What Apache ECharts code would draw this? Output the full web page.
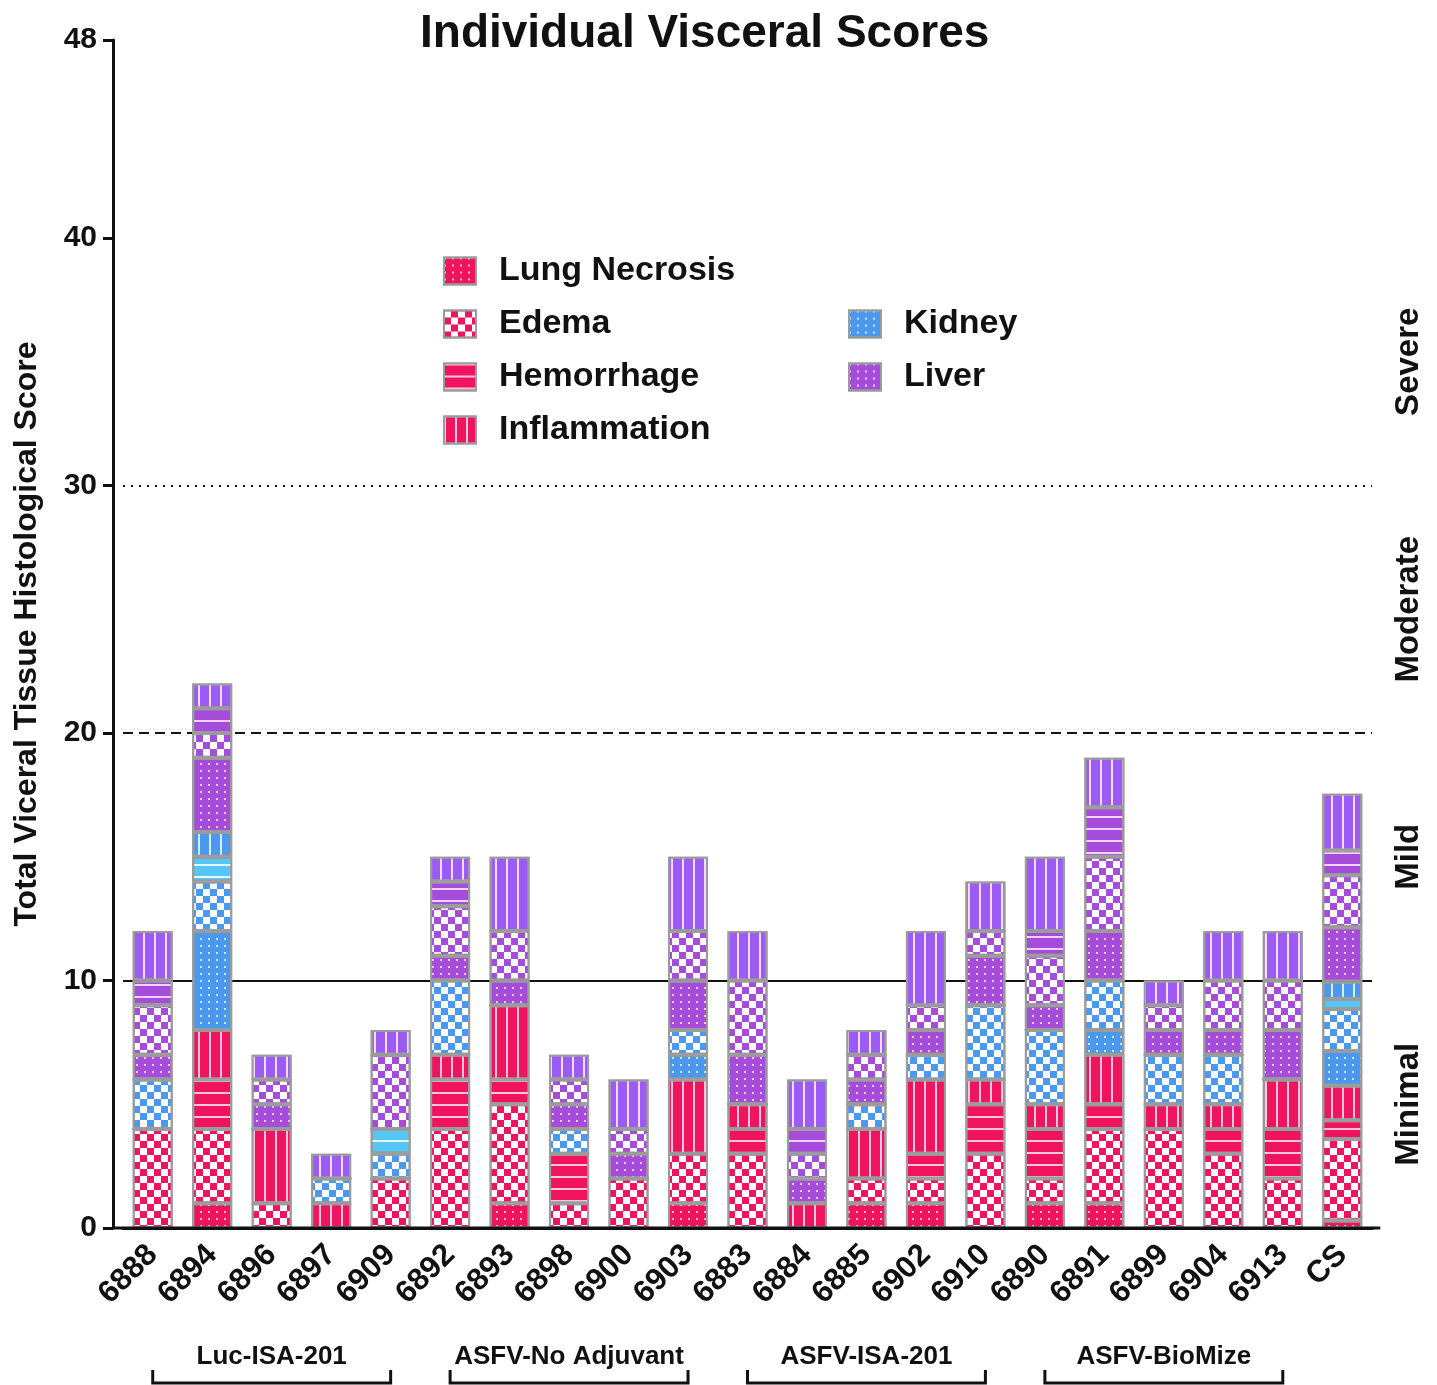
<!DOCTYPE html>
<html>
<head>
<meta charset="utf-8">
<script src="https://cdn.jsdelivr.net/npm/echarts@6/dist/echarts.min.js"></script>
<style>
  html, body { margin: 0; padding: 0; background: #fff; }
  #main { width: 1437px; height: 1385px; }
</style>
</head>
<body>
<div id="main"></div>
<script>
// animal ids along the x axis
var categories = ['6888', '6894', '6896', '6897', '6909', '6892', '6893', '6898', '6900', '6903',
  '6883', '6884', '6885', '6902', '6910', '6890', '6891', '6899', '6904', '6913', 'CS'];

// lung
var lungNecrosis     = [0, 1, 0, 0, 0, 0, 1, 0, 0, 1, 0, 0, 1, 1, 0, 1, 1, 0, 0, 0, 0.3];
var lungEdema        = [4, 3, 1, 0, 2, 4, 4, 1, 2, 2, 3, 0, 1, 1, 3, 1, 3, 4, 3, 2, 3.3];
var lungHemorrhage   = [0, 2, 0, 0, 0, 2, 1, 2, 0, 0, 1, 0, 0, 1, 2, 2, 1, 0, 1, 2, 0.75];
var lungInflammation = [0, 2, 3, 1, 0, 1, 3, 0, 0, 3, 1, 1, 2, 3, 1, 1, 2, 1, 1, 2, 1.4];
// kidney
var kidneyNecrosis     = [0, 4, 0, 0, 0, 0, 0, 0, 0, 1, 0, 0, 0, 0, 0, 0, 1, 0, 0, 0, 1.4];
var kidneyEdema        = [2, 2, 0, 1, 1, 3, 0, 1, 0, 1, 0, 0, 1, 1, 3, 3, 2, 2, 2, 0, 1.7];
var kidneyHemorrhage   = [0, 1, 0, 0, 1, 0, 0, 0, 0, 0, 0, 0, 0, 0, 0, 0, 0, 0, 0, 0, 0.4];
var kidneyInflammation = [0, 1, 0, 0, 0, 0, 0, 0, 0, 0, 0, 0, 0, 0, 0, 0, 0, 0, 0, 0, 0.7];
// liver
var liverNecrosis     = [1, 3, 1, 0, 0, 1, 1, 1, 1, 2, 2, 1, 1, 1, 2, 1, 2, 1, 1, 2, 2.2];
var liverEdema        = [2, 1, 1, 0, 3, 2, 2, 1, 1, 2, 3, 1, 1, 1, 1, 2, 3, 1, 2, 2, 2.1];
var liverHemorrhage   = [1, 1, 0, 0, 0, 1, 0, 0, 0, 0, 0, 1, 0, 0, 0, 1, 2, 0, 0, 0, 1.0];
var liverInflammation = [2, 1, 1, 1, 1, 1, 3, 1, 2, 3, 2, 2, 1, 3, 2, 3, 2, 1, 2, 2, 2.3];

var yTicks = [0, 10, 20, 30, 40, 48];
var severityAt = { 5: 'Minimal', 15: 'Mild', 25: 'Moderate', 35: 'Severe' };

var groupNames = ['Luc-ISA-201', 'ASFV-No Adjuvant', 'ASFV-ISA-201', 'ASFV-BioMize'];
var groupFirst = [0, 5, 10, 15];
var groupLast  = [4, 9, 14, 19];

var FONT = '"Liberation Sans", Arial, Helvetica, sans-serif';
var PINK = '#F0145F', BLUE = '#4A99EE', LBLUE = '#56C6F4', PURPLE = '#A64CDA', VIOLET = '#9C5BF5';

function dots(c, fg) {
  return { color: c, decal: { symbol: 'rect', symbolSize: 1, color: fg, dashArrayX: [2, 6], dashArrayY: [2, 5] } };
}
function checker(c) {
  return { color: '#fff', decal: { symbol: 'rect', symbolSize: 1, color: c, dashArrayX: [[7, 7], [0, 7, 7, 0]], dashArrayY: [7, 0] } };
}
function hstripes(c, fg) {
  return { color: c, decal: { symbol: 'rect', symbolSize: 1, color: fg, dashArrayX: [1, 0], dashArrayY: [2, 10] } };
}
function vstripes(c, fg) {
  return { color: c, decal: { symbol: 'rect', symbolSize: 1, color: fg, dashArrayX: [2, 9], dashArrayY: [1, 0] } };
}

var defs = [
  ['Lung Necrosis', lungNecrosis, dots(PINK, '#ffb8da')],
  ['Edema', lungEdema, checker(PINK)],
  ['Hemorrhage', lungHemorrhage, hstripes(PINK, '#ffc6e2')],
  ['Inflammation', lungInflammation, vstripes(PINK, '#ffc6e2')],
  ['Kidney', kidneyNecrosis, dots(BLUE, '#cbe7ff')],
  ['Kidney Edema', kidneyEdema, checker(BLUE)],
  ['Kidney Hemorrhage', kidneyHemorrhage, hstripes(LBLUE, '#e4f8ff')],
  ['Kidney Inflammation', kidneyInflammation, vstripes(BLUE, '#d8ecff')],
  ['Liver', liverNecrosis, dots(PURPLE, '#f0c8ff')],
  ['Liver Edema', liverEdema, checker(PURPLE)],
  ['Liver Hemorrhage', liverHemorrhage, hstripes(PURPLE, '#f4d2ff')],
  ['Liver Inflammation', liverInflammation, vstripes(VIOLET, '#f2dcff')]
];

var series = defs.map(function (d) {
  var st = d[2];
  st.borderColor = '#9b9b9b';
  st.borderWidth = 2;
  return {
    name: d[0],
    type: 'bar',
    stack: 'total',
    barWidth: 40,
    data: d[1],
    itemStyle: st,
    emphasis: { disabled: true }
  };
});

// reference lines drawn behind the bars
series.push({
  name: 'ref',
  type: 'line',
  data: [],
  z: 1,
  markLine: {
    z: 1,
    silent: true,
    symbol: ['none', 'none'],
    label: { show: false },
    lineStyle: { color: '#111', width: 2 },
    data: [
      { yAxis: 10, lineStyle: { type: 'solid' } },
      { yAxis: 20, lineStyle: { type: [10, 6] } },
      { yAxis: 30, lineStyle: { type: [2, 6] } }
    ]
  }
});

var legendText = { fontFamily: FONT, fontSize: 34, fontWeight: 'bold', color: '#111', lineHeight: 34, padding: [0, 0, 0, 18] };

var option = {
  backgroundColor: '#fff',
  animation: false,
  title: {
    text: 'Individual Visceral Scores',
    left: 415, top: 6,
    textStyle: { fontFamily: FONT, fontSize: 46, fontWeight: 'bold', color: '#111' }
  },
  legend: [
    { data: ['Lung Necrosis', 'Edema', 'Hemorrhage', 'Inflammation'], orient: 'vertical', left: 443, top: 254, padding: 0,
      icon: 'rect', itemWidth: 32, itemHeight: 27, itemGap: 19, textStyle: legendText, selectedMode: false },
    { data: ['Kidney', 'Liver'], orient: 'vertical', left: 848, top: 307, padding: 0,
      icon: 'rect', itemWidth: 32, itemHeight: 27, itemGap: 19, textStyle: legendText, selectedMode: false }
  ],
  grid: { left: 123, right: 65, top: 40, bottom: 157, containLabel: false },
  xAxis: {
    type: 'category',
    data: categories,
    axisLine: { lineStyle: { color: '#111', width: 3 } },
    axisTick: { alignWithLabel: true, length: 10, lineStyle: { color: '#111', width: 3 } },
    axisLabel: { interval: 0, rotate: 45, margin: 22, fontFamily: FONT, fontSize: 31, fontWeight: 'bold', color: '#111' }
  },
  yAxis: [
    {
      type: 'value', min: 0, max: 48, interval: 10, offset: 10,
      name: 'Total Viceral Tissue Histological Score',
      nameLocation: 'middle', nameGap: 70, nameRotate: 90,
      nameTextStyle: { fontFamily: FONT, fontSize: 32, fontWeight: 'bold', color: '#111' },
      axisLine: { show: true, lineStyle: { color: '#111', width: 3 } },
      axisTick: { show: true, length: 10, lineStyle: { color: '#111', width: 3 } },
      splitLine: { show: false },
      axisLabel: {
        margin: 16, fontFamily: FONT, fontSize: 30, fontWeight: 'bold', color: '#111',
        formatter: function (v) { return yTicks.indexOf(v) >= 0 ? String(v) : ''; }
      }
    },
    {
      type: 'value', min: 0, max: 48, interval: 5, position: 'right',
      axisLine: { show: false }, axisTick: { show: false }, splitLine: { show: false },
      axisLabel: {
        rotate: 90, margin: 20, fontFamily: FONT, fontSize: 33, fontWeight: 'bold', color: '#111',
        formatter: function (v) { return severityAt[v] || ''; }
      }
    }
  ],
  series: series
};

var chart = echarts.init(document.getElementById('main'));
chart.setOption(option);

// group brackets under the x labels
var y0 = chart.convertToPixel({ yAxisIndex: 0 }, 0);
var xa = chart.convertToPixel({ xAxisIndex: 0 }, categories[0]);
var xb = chart.convertToPixel({ xAxisIndex: 0 }, categories[categories.length - 1]);
var els = [{
  type: 'line', z: 5,
  shape: { x1: xa - 40, y1: y0, x2: xb + 38, y2: y0 },
  style: { stroke: '#111', lineWidth: 3 }
}];
groupNames.forEach(function (g, i) {
  var x0 = chart.convertToPixel({ xAxisIndex: 0 }, categories[groupFirst[i]]);
  var x1 = chart.convertToPixel({ xAxisIndex: 0 }, categories[groupLast[i]]);
  els.push({
    type: 'polyline',
    shape: { points: [[x0, y0 + 142], [x0, y0 + 155], [x1, y0 + 155], [x1, y0 + 142]] },
    style: { stroke: '#111', lineWidth: 3, fill: null }
  });
  els.push({
    type: 'text',
    style: {
      text: g, x: (x0 + x1) / 2, y: y0 + 129,
      textAlign: 'center', textVerticalAlign: 'middle',
      font: 'bold 26px ' + FONT, fill: '#111'
    }
  });
});
chart.setOption({ graphic: els });
</script>
</body>
</html>
